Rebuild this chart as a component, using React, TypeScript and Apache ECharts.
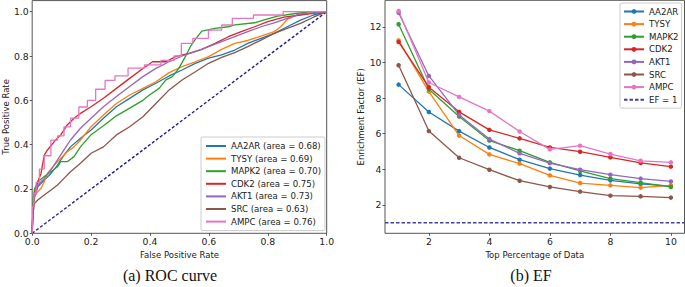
import React, { useEffect, useRef } from "react";
import * as echarts from "echarts";

// ---------- ROC data (FPR, TPR) ----------
const rocAA2AR = [[0,0],[0.003,0.12],[0.008,0.16],[0.019,0.21],[0.041,0.24],[0.064,0.27],[0.086,0.308],[0.108,0.353],[0.13,0.39],[0.164,0.429],[0.2,0.466],[0.242,0.519],[0.286,0.571],[0.331,0.609],[0.376,0.647],[0.42,0.677],[0.465,0.71],[0.509,0.737],[0.554,0.767],[0.599,0.79],[0.643,0.805],[0.688,0.827],[0.732,0.857],[0.777,0.88],[0.822,0.902],[0.866,0.932],[0.911,0.962],[0.955,0.985],[1,1]];
const rocTYSY = [[0,0],[0.003,0.14],[0.008,0.165],[0.019,0.188],[0.03,0.203],[0.041,0.233],[0.052,0.271],[0.075,0.308],[0.097,0.338],[0.119,0.368],[0.142,0.39],[0.164,0.421],[0.2,0.481],[0.242,0.534],[0.286,0.586],[0.331,0.624],[0.376,0.654],[0.42,0.684],[0.465,0.725],[0.509,0.752],[0.554,0.774],[0.599,0.797],[0.643,0.83],[0.688,0.857],[0.732,0.87],[0.777,0.89],[0.822,0.91],[0.844,0.932],[0.866,0.965],[0.9,0.985],[0.95,0.995],[1,1]];
const rocMAPK2 = [[0,0],[0.003,0.15],[0.008,0.2],[0.019,0.233],[0.041,0.256],[0.064,0.278],[0.086,0.3],[0.097,0.323],[0.119,0.323],[0.142,0.346],[0.164,0.39],[0.2,0.445],[0.242,0.485],[0.286,0.53],[0.331,0.565],[0.376,0.6],[0.398,0.624],[0.431,0.654],[0.454,0.692],[0.476,0.707],[0.498,0.744],[0.52,0.797],[0.537,0.842],[0.554,0.875],[0.576,0.912],[0.621,0.925],[0.666,0.932],[0.688,0.94],[0.755,0.95],[0.788,0.963],[0.833,0.98],[0.9,0.993],[0.95,1],[1,1]];
const rocCDK2 = [[0,0],[0.003,0.12],[0.008,0.18],[0.019,0.233],[0.03,0.27],[0.041,0.353],[0.052,0.376],[0.075,0.414],[0.097,0.444],[0.119,0.489],[0.142,0.519],[0.164,0.541],[0.2,0.571],[0.242,0.609],[0.286,0.654],[0.331,0.699],[0.376,0.744],[0.409,0.774],[0.454,0.774],[0.487,0.797],[0.532,0.812],[0.576,0.83],[0.621,0.857],[0.666,0.887],[0.71,0.91],[0.755,0.932],[0.8,0.955],[0.855,0.975],[0.911,0.985],[0.955,0.993],[1,1]];
const rocAKT1 = [[0,0],[0.003,0.12],[0.008,0.18],[0.019,0.218],[0.041,0.248],[0.064,0.286],[0.086,0.331],[0.108,0.376],[0.13,0.421],[0.164,0.474],[0.2,0.519],[0.242,0.571],[0.286,0.617],[0.331,0.662],[0.376,0.707],[0.42,0.744],[0.465,0.774],[0.509,0.8],[0.554,0.82],[0.599,0.842],[0.643,0.865],[0.688,0.887],[0.732,0.91],[0.777,0.932],[0.822,0.95],[0.866,0.97],[0.911,0.99],[0.955,0.995],[1,1]];
const rocSRC = [[0,0],[0.002,0.08],[0.005,0.11],[0.008,0.135],[0.019,0.15],[0.041,0.173],[0.064,0.195],[0.086,0.218],[0.108,0.248],[0.13,0.278],[0.164,0.316],[0.2,0.361],[0.242,0.39],[0.286,0.444],[0.331,0.481],[0.376,0.526],[0.42,0.586],[0.465,0.647],[0.509,0.692],[0.554,0.729],[0.599,0.767],[0.643,0.794],[0.688,0.815],[0.732,0.842],[0.777,0.872],[0.822,0.902],[0.866,0.925],[0.911,0.947],[0.955,0.975],[1,1]];
const rocAMPC = [[0,0],[0.003,0.12],[0.008,0.18],[0.019,0.23],[0.03,0.29],[0.052,0.35],[0.075,0.42],[0.097,0.44],[0.119,0.48],[0.142,0.52],[0.175,0.57],[0.2,0.6],[0.231,0.65],[0.264,0.69],[0.298,0.71],[0.353,0.745],[0.409,0.76],[0.465,0.78],[0.498,0.8],[0.515,0.857],[0.576,0.88],[0.621,0.917],[0.666,0.94],[0.693,0.97],[0.81,0.985],[0.894,1.0],[1,1]];
const diagonal = [[0,0],[1,1]];

const rocLabels = [
  "AA2AR (area = 0.68)",
  "TYSY (area = 0.69)",
  "MAPK2 (area = 0.70)",
  "CDK2 (area = 0.75)",
  "AKT1 (area = 0.73)",
  "SRC (area = 0.63)",
  "AMPC (area = 0.76)",
];
const rocTicks = [0, 0.2, 0.4, 0.6, 0.8, 1.0];

// ---------- Enrichment factor data ----------
const efPercent = [1, 2, 3, 4, 5, 6, 7, 8, 9, 10];
const efAA2AR = [8.76, 7.22, 6.15, 5.23, 4.54, 4.04, 3.68, 3.38, 3.18, 3.06];
const efTYSY = [11.25, 8.37, 5.9, 4.84, 4.32, 3.66, 3.23, 3.1, 2.97, 3.1];
const efMAPK2 = [12.15, 8.5, 6.97, 5.62, 5.05, 4.39, 3.91, 3.48, 3.25, 3.01];
const efCDK2 = [11.16, 8.62, 7.23, 6.22, 5.74, 5.23, 4.99, 4.67, 4.36, 4.15];
const efAKT1 = [12.8, 9.25, 7.06, 5.7, 4.9, 4.35, 3.98, 3.7, 3.48, 3.32];
const efSRC = [9.85, 6.15, 4.65, 3.98, 3.36, 3.01, 2.75, 2.52, 2.48, 2.41];
const efAMPC = [12.9, 8.88, 8.07, 7.27, 6.13, 5.12, 5.33, 4.86, 4.48, 4.39];
const efNames = ["AA2AR", "TYSY", "MAPK2", "CDK2", "AKT1", "SRC", "AMPC"];
const efBaselineName = "EF = 1";
const efBaseline = 1;
const efXTicks = [2, 4, 6, 8, 10];
const efYTicks = [2, 4, 6, 8, 10, 12];

const colors = ["#1f77b4", "#ff7f0e", "#2ca02c", "#d62728", "#9467bd", "#8c564b", "#e377c2"];
const FONT = "'DejaVu Sans', sans-serif";
const SPINE = "#555";

export default function App() {
  const ref = useRef<HTMLDivElement>(null);
  useEffect(() => {
    const chart = echarts.init(ref.current!, null, { renderer: "svg" });
    const rocData = [rocAA2AR, rocTYSY, rocMAPK2, rocCDK2, rocAKT1, rocSRC, rocAMPC];
    const efData = [efAA2AR, efTYSY, efMAPK2, efCDK2, efAKT1, efSRC, efAMPC];
    const EF_XMIN = 0.55, EF_XMAX = 10.45;

    const tickLabel = { fontSize: 9.3, fontFamily: FONT, color: "#222" };
    const axisTick = { show: true, length: 2.5, lineStyle: { color: "#333", width: 0.8 } };
    const nameStyle = { fontSize: 8.5, fontFamily: FONT, color: "#222" };

    const series: any[] = [];
    rocData.forEach((d, i) => {
      series.push({
        type: "line",
        name: rocLabels[i],
        xAxisIndex: 0,
        yAxisIndex: 0,
        data: d,
        symbol: "none",
        showSymbol: false,
        step: i === 6 ? "middle" : false,
        lineStyle: { color: colors[i], width: 1.3 },
        itemStyle: { color: colors[i] },
        z: 3,
      });
    });
    series.push({
      type: "line",
      name: "diag",
      xAxisIndex: 0,
      yAxisIndex: 0,
      data: diagonal,
      symbol: "none",
      lineStyle: { color: "#1c1c99", width: 1.4, type: [3, 2] },
      z: 2,
    });
    efData.forEach((d, i) => {
      series.push({
        type: "line",
        name: efNames[i],
        xAxisIndex: 1,
        yAxisIndex: 1,
        data: d.map((v, j) => [efPercent[j], v]),
        symbol: "circle",
        symbolSize: 4.5,
        lineStyle: { color: colors[i], width: 1.3 },
        itemStyle: { color: colors[i] },
        z: 3,
      });
    });
    series.push({
      type: "line",
      name: efBaselineName,
      xAxisIndex: 1,
      yAxisIndex: 1,
      data: [[EF_XMIN, efBaseline], [EF_XMAX, efBaseline]],
      symbol: "none",
      lineStyle: { color: "#4040a8", width: 1.4, type: [3.5, 2] },
      itemStyle: { color: "#4040a8" },
      z: 2,
    });

    const legendCommon = {
      orient: "vertical",
      itemWidth: 20,
      itemHeight: 6,
      itemGap: 2.6,
      backgroundColor: "rgba(255,255,255,0.85)",
      borderColor: "#ccc",
      borderWidth: 1,
      borderRadius: 2,
      textStyle: { fontSize: 8.6, fontFamily: FONT, color: "#222", lineHeight: 10 },
      selectedMode: false,
    };

    chart.setOption({
      animation: false,
      backgroundColor: "#fff",
      grid: [
        { left: 27.7, top: 0.6, width: 299, height: 232.7, show: true, borderColor: SPINE, borderWidth: 1, backgroundColor: "transparent" },
        { left: 385, top: 0.3, width: 299.5, height: 233, show: true, borderColor: SPINE, borderWidth: 1, backgroundColor: "transparent" },
      ],
      xAxis: [
        {
          type: "value", gridIndex: 0, min: 0, max: 1,
          axisLine: { show: false },
          axisTick: { ...axisTick, customValues: rocTicks },
          axisLabel: { ...tickLabel, margin: 3.5, customValues: rocTicks, formatter: (v: number) => v.toFixed(1) },
          splitLine: { show: false },
          name: "False Positive Rate", nameLocation: "middle", nameGap: 13, nameTextStyle: nameStyle,
        },
        {
          type: "value", gridIndex: 1, min: EF_XMIN, max: EF_XMAX,
          axisLine: { show: false },
          axisTick: { ...axisTick, customValues: efXTicks },
          axisLabel: { ...tickLabel, margin: 3.5, customValues: efXTicks, formatter: (v: number) => String(v) },
          splitLine: { show: false },
          name: "Top Percentage of Data", nameLocation: "middle", nameGap: 13, nameTextStyle: nameStyle,
        },
      ],
      yAxis: [
        {
          type: "value", gridIndex: 0, min: 0, max: 1.05,
          axisLine: { show: false },
          axisTick: { ...axisTick, customValues: rocTicks },
          axisLabel: { ...tickLabel, margin: 3.5, customValues: rocTicks, formatter: (v: number) => v.toFixed(1) },
          splitLine: { show: false },
          name: "True Positive Rate", nameLocation: "middle", nameGap: 18, nameTextStyle: nameStyle,
        },
        {
          type: "value", gridIndex: 1, min: 0.405, max: 13.5,
          axisLine: { show: false },
          axisTick: { ...axisTick, customValues: efYTicks },
          axisLabel: { ...tickLabel, margin: 3.5, customValues: efYTicks, formatter: (v: number) => String(v) },
          splitLine: { show: false },
          name: "Enrichment Factor (EF)", nameLocation: "middle", nameGap: 16, nameTextStyle: nameStyle,
        },
      ],
      legend: [
        {
          ...legendCommon, left: 201, top: 137, padding: [4, 4, 4, 4],
          data: rocLabels.map((n) => ({ name: n, itemStyle: { opacity: 0 } })),
        },
        {
          ...legendCommon, left: 620, top: 3, padding: [3.5, 3, 3.5, 3],
          data: [...efNames, { name: efBaselineName, itemStyle: { opacity: 0 } }],
        },
      ],
      graphic: [
        { type: "text", x: 170, y: 275, style: { text: "(a) ROC curve", font: "16px 'Liberation Serif', serif", fill: "#111", align: "center", verticalAlign: "middle" } },
        { type: "text", x: 531, y: 275, style: { text: "(b) EF", font: "16px 'Liberation Serif', serif", fill: "#111", align: "center", verticalAlign: "middle" } },
      ],
      series,
    });
    return () => chart.dispose();
  }, []);
  return <div ref={ref} style={{ position: "fixed", left: 0, top: 0, width: 685, height: 287 }} />;
}
